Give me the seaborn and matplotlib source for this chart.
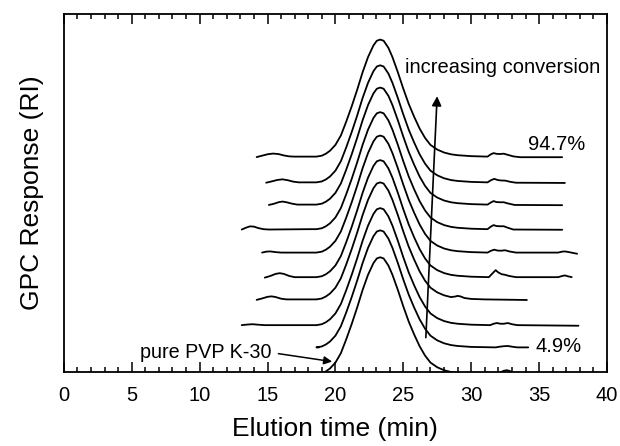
import pandas as pd
import matplotlib
matplotlib.use('Agg')
import matplotlib.pyplot as plt
import seaborn as sns

# shared peak profile (normalised to peak height)
peak_t = [18.6, 19.0, 19.3, 19.6, 20.0, 20.4, 20.8, 21.2, 21.6, 22.0, 22.4, 22.8,
          23.05, 23.3, 23.55, 23.9, 24.2, 24.6, 25.0, 25.4, 25.8, 26.2, 26.6,
          27.0, 27.5, 28.0, 28.5]
peak_h = [0.0, 0.008, 0.025, 0.05, 0.10, 0.18, 0.30, 0.43, 0.57, 0.72, 0.85, 0.95,
          0.99, 1.0, 0.99, 0.93, 0.85, 0.72, 0.58, 0.45, 0.34, 0.24, 0.16, 0.10,
          0.06, 0.035, 0.02]

# baseline offset of each trace, top (94.7%) to bottom (pure PVP K-30)
offsets = [1.84, 1.62, 1.43, 1.22, 1.02, 0.81, 0.62, 0.40, 0.21, -0.02]

# baseline before the peak
left_t = [
    [14.2, 14.6, 15.0, 15.4, 15.8, 16.2, 16.6, 17.0, 18.0],
    [14.9, 15.3, 15.7, 16.1, 16.5, 16.9, 17.3, 18.0],
    [15.1, 15.5, 15.8, 16.1, 16.4, 16.8, 17.2, 18.0],
    [13.1, 13.4, 13.7, 14.0, 14.3, 14.7, 15.1, 18.0],
    [14.6, 14.9, 15.2, 15.6, 16.0, 18.0],
    [14.8, 15.2, 15.6, 15.9, 16.2, 16.6, 17.0, 18.0],
    [14.2, 14.6, 15.0, 15.3, 15.6, 16.0, 16.4, 18.0],
    [13.1, 13.5, 13.9, 14.3, 14.8, 18.0],
    [18.8],
    [18.2],
]
left_dy = [
    [-0.004, 0.008, 0.02, 0.026, 0.022, 0.01, 0.002, 0.0, 0.0],
    [-0.003, 0.008, 0.02, 0.026, 0.018, 0.006, 0.0, 0.0],
    [-0.003, 0.008, 0.02, 0.026, 0.02, 0.008, 0.0, 0.0],
    [-0.003, 0.012, 0.024, 0.022, 0.01, 0.0, -0.003, 0.0],
    [0.0, 0.008, 0.01, 0.004, 0.0, 0.0],
    [-0.004, 0.01, 0.028, 0.034, 0.028, 0.01, 0.0, 0.0],
    [-0.004, 0.008, 0.022, 0.026, 0.02, 0.006, 0.0, 0.0],
    [0.0, 0.005, 0.008, 0.004, 0.0, 0.0],
    [0.0],
    [0.0],
]

# baseline after the peak
right_t = [
    [29.0, 30.0, 31.2, 31.45, 31.65, 31.85, 32.1, 32.4, 32.7, 33.1, 33.6, 36.7],
    [29.0, 30.0, 31.2, 31.45, 31.7, 31.95, 32.2, 32.5, 32.9, 33.3, 36.9],
    [29.0, 30.0, 31.2, 31.45, 31.65, 31.85, 32.1, 32.4, 32.7, 33.2, 36.7],
    [29.0, 30.0, 31.2, 31.45, 31.65, 31.85, 32.1, 32.4, 32.7, 33.1, 36.7],
    [29.0, 30.0, 31.2, 31.45, 31.7, 31.95, 32.2, 32.5, 32.8, 33.3, 36.4, 36.7,
     36.9, 37.2, 37.8],
    [29.0, 30.0, 31.3, 31.55, 31.8, 32.0, 32.25, 32.5, 32.8, 33.3, 36.4, 36.7,
     36.9, 37.1, 37.4],
    [28.5, 28.8, 29.0, 29.2, 29.5, 30.0, 31.0, 34.1],
    [29.0, 30.0, 31.4, 31.65, 31.9, 32.15, 32.4, 32.7, 33.0, 33.4, 37.9],
    [29.0, 30.0, 31.8, 32.1, 32.4, 32.7, 33.0, 33.4, 34.2],
    [29.0, 30.0, 31.8, 32.1, 32.4, 32.6, 32.8, 33.1, 33.4, 34.0],
]
right_dy = [
    [0.012, 0.004, 0.0, 0.02, 0.03, 0.024, 0.022, 0.025, 0.015, 0.002, -0.005,
     -0.005],
    [0.012, 0.004, 0.0, 0.018, 0.03, 0.02, 0.016, 0.015, 0.004, -0.003, -0.005],
    [0.012, 0.004, 0.0, 0.018, 0.03, 0.022, 0.02, 0.02, 0.01, -0.003, -0.005],
    [0.012, 0.004, 0.0, 0.022, 0.035, 0.027, 0.025, 0.025, 0.012, -0.003,
     -0.005],
    [0.012, 0.004, 0.0, 0.015, 0.025, 0.017, 0.016, 0.02, 0.01, 0.0, 0.0,
     0.008, 0.01, 0.004, -0.01],
    [0.012, 0.004, 0.0, 0.03, 0.06, 0.04, 0.025, 0.02, 0.01, 0.0, 0.0, 0.01,
     0.015, 0.008, 0.0],
    [0.02, 0.024, 0.03, 0.026, 0.012, 0.004, 0.0, -0.005],
    [0.012, 0.004, 0.0, 0.012, 0.018, 0.012, 0.012, 0.018, 0.008, 0.0, -0.005],
    [0.012, 0.004, 0.0, 0.006, 0.01, 0.012, 0.006, 0.0, 0.0],
    [0.012, 0.004, 0.0, 0.015, 0.03, 0.035, 0.03, 0.015, 0.0, 0.0],
]

rows = []
for i, off in enumerate(offsets):
    tt = left_t[i] + peak_t + right_t[i]
    hh = left_dy[i] + peak_h + right_dy[i]
    for t, h in zip(tt, hh):
        rows.append({'trace': i, 'time': t, 'resp': h + off})
df = pd.DataFrame(rows)

sns.set_style('ticks')
plt.rcParams['font.family'] = ['Liberation Sans', 'DejaVu Sans']
plt.rcParams['text.color'] = 'black'
plt.rcParams['axes.labelcolor'] = 'black'
plt.rcParams['xtick.color'] = 'black'

fig = plt.figure(figsize=(6.2, 4.46), dpi=100)
ax = fig.add_axes([0.103, 0.166, 0.876, 0.803])

sns.lineplot(data=df, x='time', y='resp', units='trace', estimator=None,
             sort=False, color='black', lw=1.3, ax=ax, legend=False)

ax.set_xlim(0, 40)
ax.set_ylim(0, 3.06)
ax.set_xticks(range(0, 41, 5))
ax.set_xticks(range(0, 41, 1), minor=True)
ax.set_yticks([])
ax.tick_params(axis='x', which='both', direction='in', top=True, bottom=True,
               labelsize=14.5, width=1.1, pad=10, colors='black')
ax.tick_params(axis='x', which='major', length=7.5)
ax.tick_params(axis='x', which='minor', length=3.8)
for s in ax.spines.values():
    s.set_visible(True)
    s.set_linewidth(1.3)
    s.set_color('black')

ax.set_xlabel('Elution time (min)', fontsize=19, labelpad=9)
ax.set_ylabel('GPC Response (RI)', fontsize=19, labelpad=14)

ax.text(25.1, 2.60, 'increasing conversion', fontsize=14.5, va='center')
ax.annotate('', xy=(27.5, 2.38), xytext=(26.65, 0.27),
            arrowprops=dict(arrowstyle='-|>', color='black', lw=1.2,
                            mutation_scale=14))
ax.text(34.2, 1.94, '94.7%', fontsize=14.5, va='center')
ax.text(34.7, 0.22, '4.9%', fontsize=14.5, va='center')
ax.text(15.3, 0.17, 'pure PVP K-30', fontsize=14.2, va='center', ha='right')
ax.annotate('', xy=(19.96, 0.085), xytext=(15.6, 0.16),
            arrowprops=dict(arrowstyle='-|>', color='black', lw=1.1,
                            mutation_scale=12))

fig.savefig('out.png', dpi=100)
